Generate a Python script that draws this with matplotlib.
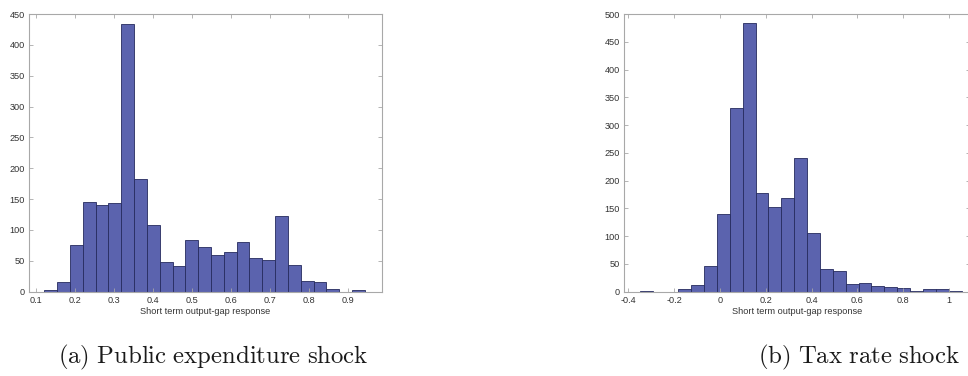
import numpy as np
import matplotlib
matplotlib.use("Agg")
import matplotlib.pyplot as plt

plt.rcParams['mathtext.fontset'] = 'cm'

# ---------------- data ----------------
counts_a = [3, 15, 75, 146, 141, 143, 433, 182, 108, 48, 42, 83, 72, 59, 64,
            80, 54, 51, 122, 44, 18, 15, 5, 0, 2]
bin_start_a, bin_width_a = 0.122, 0.0329

counts_b = [2, 0, 0, 4, 12, 47, 139, 330, 484, 177, 152, 169, 240, 105, 41,
            37, 14, 15, 10, 8, 7, 2, 5, 4, 2]
bin_start_b, bin_width_b = -0.35, 0.0562

xticks_a = [0.1, 0.2, 0.3, 0.4, 0.5, 0.6, 0.7, 0.8, 0.9]
xticklabels_a = ['0.1', '0.2', '0.3', '0.4', '0.5', '0.6', '0.7', '0.8', '0.9']
yticks_a = [0, 50, 100, 150, 200, 250, 300, 350, 400, 450]

xticks_b = [-0.4, -0.2, 0, 0.2, 0.4, 0.6, 0.8, 1.0]
xticklabels_b = ['-0.4', '-0.2', '0', '0.2', '0.4', '0.6', '0.8', '1']
yticks_b = [0, 50, 100, 150, 200, 250, 300, 350, 400, 450, 500]

xlabel = 'Short term output-gap response'
caption_a = r'$\mathrm{(a)\ Public\ expenditure\ shock}$'
caption_b = r'$\mathrm{(b)\ Tax\ rate\ shock}$'

# ---------------- style ----------------
W, H = 968, 376
fig = plt.figure(figsize=(W / 100, H / 100), dpi=100)

face = '#5b63ae'
edge = '#262b5e'
spine_col = '#a8a8a8'
txt_col = '#333333'
tick_fs = 6.6


def px_axes(x0, y0, x1, y1):
    return fig.add_axes([x0 / W, 1 - y1 / H, (x1 - x0) / W, (y1 - y0) / H])


def style(ax, xticks, xlabels, yticks):
    for s in ax.spines.values():
        s.set_color(spine_col)
        s.set_linewidth(0.8)
    ax.set_xticks(xticks)
    ax.set_xticklabels(xlabels)
    ax.set_yticks(yticks)
    ax.tick_params(direction='in', length=3, width=0.6, color=spine_col,
                   labelsize=tick_fs, labelcolor=txt_col, top=True, right=True,
                   pad=3)
    for lab in ax.get_xticklabels() + ax.get_yticklabels():
        lab.set_family('Liberation Sans')
    ax.set_xlabel(xlabel, fontsize=tick_fs, color=txt_col,
                  family='Liberation Sans', labelpad=1.5)


def draw(ax, counts, start, width):
    n = len(counts)
    edges = start + width * np.arange(n + 1)
    ax.bar(edges[:-1], counts, width=np.diff(edges), align='edge',
           color=face, edgecolor=edge, linewidth=0.6)


ax1 = px_axes(29, 14, 381.5, 291.7)
draw(ax1, counts_a, bin_start_a, bin_width_a)
ax1.set_xlim(0.0828, 0.987)
ax1.set_ylim(0, 450)
style(ax1, xticks_a, xticklabels_a, yticks_a)

ax2 = px_axes(624.3, 14, 970, 291.7)
draw(ax2, counts_b, bin_start_b, bin_width_b)
ax2.set_xlim(-0.4175, 1.092)
ax2.set_ylim(0, 500)
style(ax2, xticks_b, xticklabels_b, yticks_b)

fig.text(58 / W, 1 - 357 / H, caption_a, fontsize=17.8, color='#1a1a1a',
         ha='left', va='center')
fig.text(758 / W, 1 - 357 / H, caption_b, fontsize=17.8, color='#1a1a1a',
         ha='left', va='center')

fig.savefig('out.png', dpi=100)
